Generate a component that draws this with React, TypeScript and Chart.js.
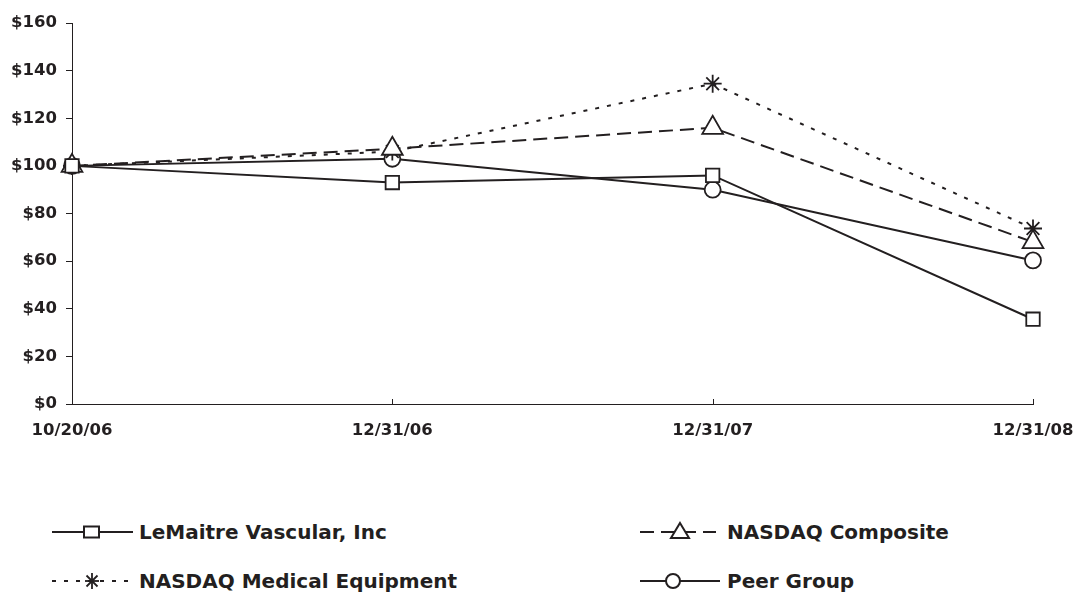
import React, { useEffect, useRef } from 'react';
import { Chart, registerables } from 'chart.js';

Chart.register(...registerables);

const categories = ['10/20/06', '12/31/06', '12/31/07', '12/31/08'];
const lemaitre = [100, 93, 96, 35.6];
const nasdaqComposite = [100, 107.2, 116, 68];
const nasdaqMedical = [100, 106, 134.5, 73.7];
const peerGroup = [100, 103, 90, 60.3];
const yTickValues = [0, 20, 40, 60, 80, 100, 120, 140, 160];

const INK = '#231f20';
const FONT = '"DejaVu Sans", sans-serif';

const upTicks = {
  id: 'upTicks',
  afterDraw(chart: any) {
    const xs = chart.scales.x;
    const ctx = chart.ctx;
    const y0 = chart.chartArea.bottom;
    ctx.save();
    ctx.strokeStyle = INK;
    ctx.lineWidth = 1;
    for (let i = 0; i < categories.length; i++) {
      const px = Math.round(xs.getPixelForTick(i)) + 0.5;
      ctx.beginPath();
      ctx.moveTo(px, y0);
      ctx.lineTo(px, y0 - 5);
      ctx.stroke();
    }
    ctx.restore();
  },
};

function LegendItem(props: { left: number; top: number; label: string; dash?: string; marker: React.ReactNode; lineEnd: number }) {
  const { left, top, label, dash, marker, lineEnd } = props;
  return (
    <div style={{ position: 'absolute', left, top: top - 15, height: 30, width: 420 }}>
      <svg width={90} height={30} style={{ position: 'absolute', left: 0, top: 0 }}>
        <line x1={0} y1={15} x2={lineEnd} y2={15} stroke={INK} strokeWidth={2} strokeDasharray={dash} />
        {marker}
      </svg>
      <span
        style={{
          position: 'absolute',
          left: 87,
          top: 0,
          lineHeight: '30px',
          fontFamily: FONT,
          fontWeight: 'bold',
          fontSize: 20,
          color: INK,
          whiteSpace: 'nowrap',
        }}
      >
        {label}
      </span>
    </div>
  );
}

export default function App() {
  const canvasRef = useRef<HTMLCanvasElement | null>(null);

  useEffect(() => {
    document.body.style.margin = '0';
    const canvas = canvasRef.current;
    if (!canvas) return;
    const common = {
      borderColor: INK,
      borderWidth: 2,
      pointBackgroundColor: '#ffffff',
      pointBorderColor: INK,
      pointBorderWidth: 1.8,
      fill: false,
      tension: 0,
    };
    const chart = new Chart(canvas, {
      type: 'line',
      data: {
        labels: categories,
        datasets: [
          { ...common, label: 'LeMaitre Vascular, Inc', data: lemaitre, pointStyle: 'rect', pointRadius: 9.5 },
          { ...common, label: 'NASDAQ Composite', data: nasdaqComposite, borderDash: [14, 7], pointStyle: 'triangle', pointRadius: 12 },
          { ...common, label: 'NASDAQ Medical Equipment', data: nasdaqMedical, borderDash: [4, 8], pointStyle: 'star', pointRadius: 9 },
          { ...common, label: 'Peer Group', data: peerGroup, pointStyle: 'circle', pointRadius: 8 },
        ],
      },
      options: {
        animation: false,
        responsive: true,
        maintainAspectRatio: false,
        layout: { padding: { top: 23, right: 44, left: 0, bottom: 0 } },
        plugins: { legend: { display: false }, tooltip: { enabled: false } },
        scales: {
          x: {
            type: 'category',
            offset: false,
            grid: { display: true, drawOnChartArea: false, drawTicks: false },
            border: { display: true, color: INK, width: 1 },
            ticks: {
              color: INK,
              padding: 17,
              maxRotation: 0,
              font: { family: FONT, weight: 'bold', size: 16.5 },
            },
            afterFit(scale: any) {
              scale.height = 56;
              scale.paddingLeft = 0;
              scale.paddingRight = 0;
            },
          },
          y: {
            min: 0,
            max: 160,
            afterBuildTicks(scale: any) {
              scale.ticks = yTickValues.map((v) => ({ value: v }));
            },
            grid: { display: true, drawOnChartArea: false, drawTicks: true, tickLength: 6, color: INK },
            border: { display: true, color: INK, width: 1 },
            ticks: {
              color: INK,
              padding: 9,
              font: { family: FONT, weight: 'bold', size: 16.5 },
              callback: (v: any) => '$' + v,
            },
            afterFit(scale: any) {
              scale.width = 72;
              scale.paddingTop = 0;
              scale.paddingBottom = 0;
            },
          },
        },
      },
      plugins: [upTicks],
    } as any);
    return () => chart.destroy();
  }, []);

  const sq = <rect x={32} y={9.5} width={15} height={11} fill="#fff" stroke={INK} strokeWidth={2} />;
  const tri = <polygon points="40,6 49,21 31,21" fill="#fff" stroke={INK} strokeWidth={2} />;
  const star = (
    <g stroke={INK} strokeWidth={1.8}>
      <line x1={40} y1={7} x2={40} y2={23} />
      <line x1={33} y1={15} x2={47} y2={15} />
      <line x1={34.5} y1={9.5} x2={45.5} y2={20.5} />
      <line x1={34.5} y1={20.5} x2={45.5} y2={9.5} />
    </g>
  );
  const circ = <circle cx={33} cy={15} r={7} fill="#fff" stroke={INK} strokeWidth={2} />;

  return (
    <div style={{ position: 'relative', width: 1077, height: 593, background: '#fff' }}>
      <div style={{ position: 'absolute', left: 0, top: 0, width: 1077, height: 460 }}>
        <canvas ref={canvasRef} />
      </div>
      <LegendItem left={52} top={532} label="LeMaitre Vascular, Inc" marker={sq} lineEnd={81} />
      <LegendItem left={52} top={581} label="NASDAQ Medical Equipment" marker={star} lineEnd={78} dash="4 8" />
      <LegendItem left={640} top={532} label="NASDAQ Composite" marker={tri} lineEnd={76} dash="14 7" />
      <LegendItem left={640} top={581} label="Peer Group" marker={circ} lineEnd={80} />
    </div>
  );
}
